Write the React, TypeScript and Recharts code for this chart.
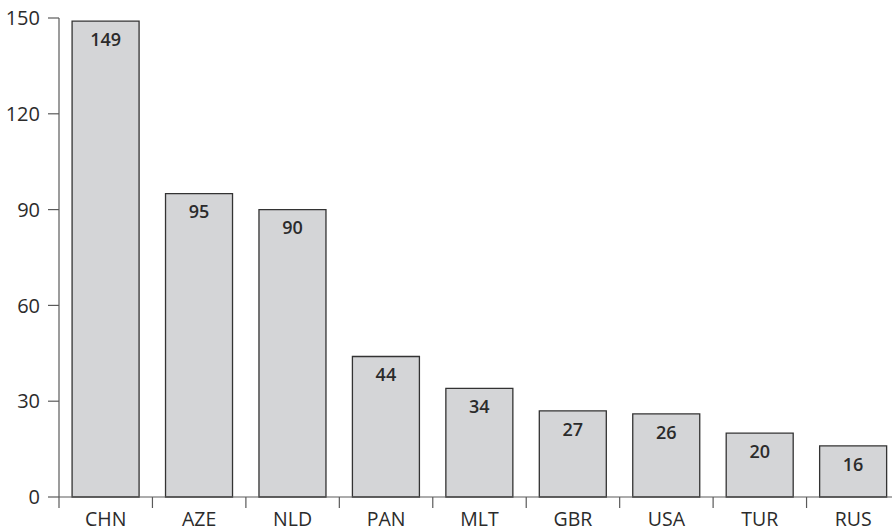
import { Bar, BarChart, LabelList, XAxis, YAxis } from "recharts";

const countries = ["CHN", "AZE", "NLD", "PAN", "MLT", "GBR", "USA", "TUR", "RUS"];
const counts = [149, 95, 90, 44, 34, 27, 26, 20, 16];
const yTicks = [0, 30, 60, 90, 120, 150];

const chartData = countries.map((country, i) => ({ country, count: counts[i] }));

const FONT = "'Open Sans', 'Noto Sans', sans-serif";
const AXIS = "#5a5a5a";
const TEXT = "#2b2b2b";

// tick line sits on the band boundary, label in the band centre
function CountryTick(props: any) {
  const { x, y, payload } = props;
  const half = 841 / countries.length / 2;
  return (
    <g>
      <line x1={x - half} x2={x - half} y1={y} y2={y + 11} stroke={AXIS} strokeWidth={1.2} />
      <text x={x} y={y + 29} textAnchor="middle" fill={TEXT} fontSize={19.5} fontFamily={FONT}>
        {payload.value}
      </text>
    </g>
  );
}

export default function App() {
  return (
    <div style={{ position: "fixed", left: 0, top: 0, width: 892, height: 532, overflow: "hidden", background: "#fff" }}>
      <BarChart
        width={900}
        height={532}
        data={chartData}
        margin={{ top: 18, right: 0, left: 0, bottom: 0 }}
        barCategoryGap="14%"
      >
        <XAxis
          dataKey="country"
          height={35}
          tickSize={0}
          tickMargin={0}
          tick={<CountryTick />}
          axisLine={{ stroke: AXIS, strokeWidth: 1.2 }}
          interval={0}
        />
        <YAxis
          width={59}
          domain={[0, 150]}
          ticks={yTicks}
          tickSize={11}
          tickMargin={8}
          axisLine={{ stroke: AXIS, strokeWidth: 1.2 }}
          tickLine={{ stroke: AXIS, strokeWidth: 1.2 }}
          tick={{ fill: TEXT, fontSize: 20, fontFamily: FONT }}
        />
        <Bar dataKey="count" fill="#d4d5d7" stroke="#333" strokeWidth={1.3} isAnimationActive={false}>
          <LabelList
            dataKey="count"
            position="insideTop"
            offset={12}
            fill={TEXT}
            fontSize={18}
            fontWeight={600}
            fontFamily={FONT}
          />
        </Bar>
      </BarChart>
    </div>
  );
}
